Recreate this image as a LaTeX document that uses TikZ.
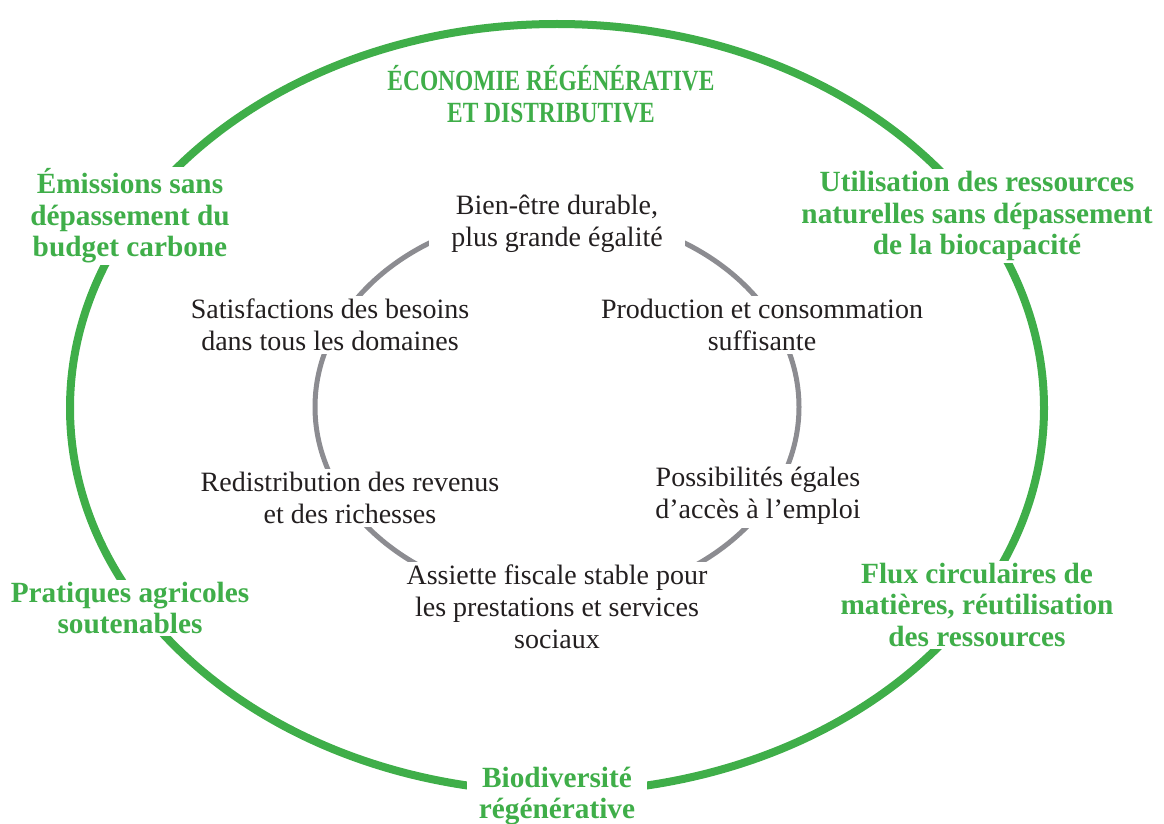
\documentclass[tikz,border=0pt]{standalone}
\usepackage{fontspec}
\setmainfont{Liberation Serif}
\usetikzlibrary{positioning}
\definecolor{ecgreen}{RGB}{63,174,73}
\definecolor{ecgrey}{RGB}{140,140,145}
\definecolor{ectext}{RGB}{35,31,32}

\begin{document}
\begin{tikzpicture}[
  x=1pt, y=-1pt,
  inlbl/.style={fill=white, text=ectext, align=center, inner xsep=6pt, inner ysep=3pt, font=\fontsize{28}{32}\selectfont},
  outlbl/.style={fill=white, text=ecgreen, align=center, inner xsep=12pt, inner ysep=2pt, font=\fontsize{29.3}{31.5}\selectfont\bfseries},
  outring/.style={draw=ecgreen, line width=8pt},
  inring/.style={draw=ecgrey, line width=5pt}
]
\useasboundingbox (0,0) rectangle (1164,824);

% the two rings
\path[outring] (557,408) ellipse [x radius=487, y radius=384];
\path[inring] (557,407) ellipse [x radius=242, y radius=193];

% outer ring
\node[outlbl, font=\fontsize{29.3}{31.5}\selectfont\bfseries\addfontfeature{FakeStretch=0.8}] (eco) at (551,94) {ÉCONOMIE RÉGÉNÉRATIVE\\ET DISTRIBUTIVE};
\node[outlbl] (emis) at (130,216) {Émissions sans\\dépassement du\\budget carbone};
\node[outlbl] (util) at (977,216) {Utilisation des ressources\\naturelles sans dépassement\\de la biocapacité};
\node[outlbl] (agri) at (130,608) {Pratiques agricoles\\soutenables};
\node[outlbl] (flux) at (977,605) {Flux circulaires de\\matières, réutilisation\\des ressources};
\node[outlbl] (bio) at (557,796) {Biodiversité\\régénérative};

% inner ring
\node[inlbl, inner xsep=22pt] (bien) at (557,224) {Bien-être durable,\\plus grande égalité};
\node[inlbl] (besoins) at (330,325) {Satisfactions des besoins\\dans tous les domaines};
\node[inlbl] (prod) at (762,325) {Production et consommation\\suffisante};
\node[inlbl] (redis) at (350,498) {Redistribution des revenus\\et des richesses};
\node[inlbl] (emploi) at (758,496) {Possibilités égales\\d’accès à l’emploi};
\node[inlbl] (fisc) at (557,607) {Assiette fiscale stable pour\\les prestations et services\\sociaux};
\end{tikzpicture}
\end{document}
